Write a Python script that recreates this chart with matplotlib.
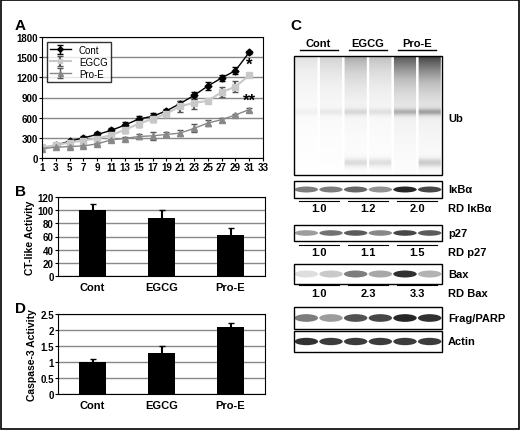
import numpy as np
import matplotlib
matplotlib.use("Agg")
import matplotlib.pyplot as plt
from matplotlib.patches import Rectangle, Ellipse

days = list(range(1, 32, 2))
cont = [150,190,250,300,350,410,490,580,620,700,810,930,1070,1190,1300,1570]
egcg = [160,190,230,260,290,340,420,510,580,660,770,820,850,980,1060,1230]
proe = [140,160,170,180,210,270,290,320,330,350,370,440,520,570,640,720]
cont_err = [20,20,25,25,30,40,45,45,45,30,40,50,60,50,50,20]
egcg_err = [20,20,25,25,30,40,45,50,50,30,80,90,30,70,80,30]
proe_err = [15,15,15,15,20,20,25,30,60,30,50,60,40,30,20,30]

groups = ["Cont", "EGCG", "Pro-E"]
ct_act = [100, 88, 62]
ct_err = [10, 12, 11]
casp = [1.0, 1.27, 2.1]
casp_err = [0.08, 0.22, 0.12]

blot_labels = ["IκBα", "p27", "Bax", "Frag/PARP", "Actin"]
rd_labels = ["RD IκBα", "RD p27", "RD Bax"]
rd_values = [["1.0", "1.2", "2.0"], ["1.0", "1.1", "1.5"], ["1.0", "2.3", "3.3"]]
ikba_int = [0.6, 0.6, 0.7, 0.5, 1.0, 0.85]
p27_int = [0.45, 0.65, 0.75, 0.55, 0.85, 0.75]
bax_int = [0.15, 0.25, 0.6, 0.4, 0.95, 0.35]
parp_int = [0.6, 0.45, 0.8, 0.85, 1.0, 0.95]
actin_int = [0.95, 0.9, 0.9, 0.9, 0.9, 0.9]
ub_int = [0.25, 0.35, 0.55, 0.45, 0.9, 1.0]

W, H = 520, 431
fig = plt.figure(figsize=(5.2, 4.31), dpi=100)
plt.rcParams['font.family'] = ['Liberation Sans', 'DejaVu Sans']

def ax_px(x0, y0, x1, y1):
    return fig.add_axes([x0/W, 1-y1/H, (x1-x0)/W, (y1-y0)/H])

ov = fig.add_axes([0, 0, 1, 1], zorder=-1)
ov.set_xlim(0, W); ov.set_ylim(H, 0); ov.axis('off')
ov.add_patch(Rectangle((1, 1), W-2, H-2, fill=False, lw=1.2, ec='black'))

# Panel A
a = ax_px(42, 38, 263, 159)
a.errorbar(days, cont, yerr=cont_err, color='black', marker='D', ms=3.5, lw=1, capsize=2, label='Cont')
a.errorbar(days, egcg, yerr=egcg_err, color='#c8c8c8', marker='s', ms=4, lw=1.5, ecolor='#555555', capsize=2, label='EGCG')
a.errorbar(days, proe, yerr=proe_err, color='#888888', marker='^', ms=4.5, lw=1, ecolor='#555555', capsize=2, label='Pro-E')
a.set_xlim(1, 33); a.set_ylim(0, 1800)
a.set_xticks(range(1, 34, 2)); a.set_yticks(range(0, 1801, 300))
a.yaxis.grid(True, color='#888888', lw=1); a.set_axisbelow(True)
a.tick_params(labelsize=7, length=2, pad=1)
for lab in a.get_xticklabels()+a.get_yticklabels(): lab.set_fontweight('bold')
a.legend(loc='upper left', fontsize=7, frameon=True, fancybox=False, edgecolor='black', handlelength=2.2,
         borderpad=0.3, labelspacing=0.2, markerscale=0.8)
a.text(31, 1330, '*', fontsize=12, ha='center', fontweight='bold')
a.text(31, 790, '**', fontsize=12, ha='center', fontweight='bold')
ov.text(15, 30, 'A', fontsize=11, fontweight='bold')

def bars(rect, vals, errs, ymax, step, ylabel, fmt, letter, ly):
    b = ax_px(*rect)
    x = np.arange(3)
    b.bar(x, vals, width=0.4, color='black', yerr=errs, capsize=2, error_kw=dict(lw=1.5))
    b.set_xlim(-0.5, 2.5); b.set_ylim(0, ymax)
    b.set_yticks(np.arange(0, ymax+step/2, step))
    b.set_yticklabels([fmt(v) for v in np.arange(0, ymax+step/2, step)])
    b.set_xticks(x); b.set_xticklabels(groups)
    b.yaxis.grid(True, color='#888888', lw=1); b.set_axisbelow(True)
    b.tick_params(axis='y', labelsize=7, length=2, pad=1)
    b.tick_params(axis='x', labelsize=8, length=0, pad=4)
    for lab in b.get_yticklabels()+b.get_xticklabels(): lab.set_fontweight('bold')
    b.set_ylabel(ylabel, fontsize=7.5, fontweight='bold', labelpad=2)
    ov.text(15, ly, letter, fontsize=11, fontweight='bold')

bars((58, 198, 265, 277), ct_act, ct_err, 120, 20, 'CT-like Activity', lambda v: f'{v:.0f}', 'B', 196)
bars((58, 315, 265, 395), casp, casp_err, 2.5, 0.5, 'Caspase-3 Activity', lambda v: f'{v:g}', 'D', 313)

# Panel C
ov.text(290, 30, 'C', fontsize=11, fontweight='bold')
bx0, bx1 = 294, 442
lane_w = (bx1 - bx0) / 6
lanes = [bx0 + lane_w*(i+0.5) for i in range(6)]
for i, g in enumerate(groups):
    cx = (lanes[2*i] + lanes[2*i+1]) / 2
    ov.text(cx, 47, g, ha='center', fontsize=8, fontweight='bold')
    ov.plot([cx-19, cx+19], [51, 51], color='black', lw=1)

ys = np.linspace(0, 1, 120)[:, None]
img = np.zeros((120, 6*20))
for i, v in enumerate(ub_int):
    prof = v*np.exp(-ys*3.5)*0.9 + 0.35*v*np.exp(-((ys-0.47)/0.03)**2)
    prof = prof + 0.3*(i in (2, 3, 5))*np.exp(-((ys-0.9)/0.04)**2)*(0.5+v*0.5)
    img[:, i*20+1:i*20+19] = prof
ov.imshow(img, cmap='Greys', vmin=0, vmax=1.1, extent=(bx0, bx1, 176, 57), aspect='auto', zorder=1)
ov.add_patch(Rectangle((bx0, 57), bx1-bx0, 119, fill=False, lw=1, ec='black', zorder=2))
ov.text(448, 119, 'Ub', fontsize=8, fontweight='bold', va='center')

boxes = [(182, 199), (226, 242), (265, 285), (308, 330), (332, 353)]
ints = [ikba_int, p27_int, bax_int, parp_int, actin_int]
for (y0, y1), lab, iv in zip(boxes, blot_labels, ints):
    ov.add_patch(Rectangle((bx0, y0), bx1-bx0, y1-y0, fill=False, lw=1, ec='black', zorder=3))
    for xc, v in zip(lanes, iv):
        c = str(1 - 0.85*v)
        ov.add_patch(Ellipse((xc, (y0+y1)/2), lane_w*0.95, (y1-y0)*0.35, color=c, lw=0, zorder=2))
    ov.text(448, (y0+y1)/2, lab, fontsize=8, fontweight='bold', va='center')

rd_lines = [202, 246, 286]
rd_y = [209, 253, 294]
for rl, ry, lab, vals in zip(rd_lines, rd_y, rd_labels, rd_values):
    for i, v in enumerate(vals):
        cx = (lanes[2*i] + lanes[2*i+1]) / 2
        ov.plot([cx-20, cx+20], [rl, rl], color='black', lw=0.8)
        ov.text(cx, ry, v, ha='center', va='center', fontsize=8, fontweight='bold')
    ov.text(448, ry, lab, fontsize=8, fontweight='bold', va='center')

fig.savefig('out.png', dpi=100)
